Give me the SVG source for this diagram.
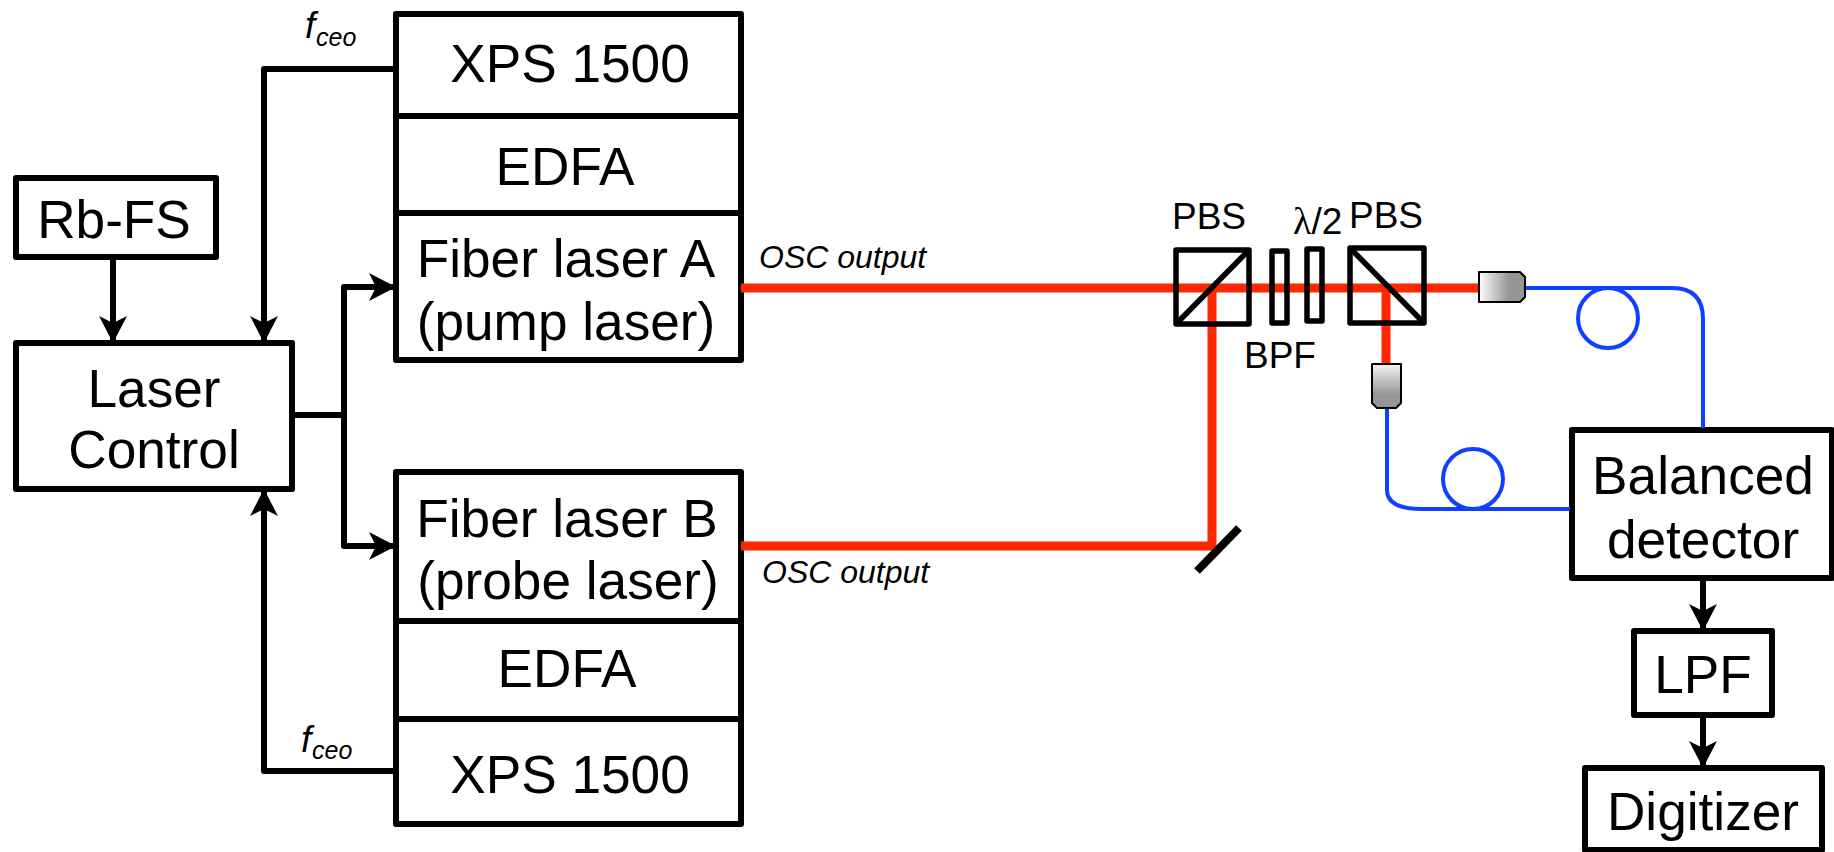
<svg xmlns="http://www.w3.org/2000/svg" width="1834" height="852" viewBox="0 0 1834 852">
<style>
text{font-family:"Liberation Sans",Arial,sans-serif;fill:#000}
.l{font-size:53.2px;text-anchor:middle}
.s{font-size:37px}
.o{font-size:32px;font-style:italic}
.f{font-size:37px;font-style:italic}
.c{font-size:25px;font-style:italic}
.b{fill:#fff;stroke:#000;stroke-width:6;stroke-linejoin:round}
.k{fill:none;stroke:#000;stroke-width:6;stroke-linejoin:round}
.r{fill:none;stroke:#ff2600;stroke-width:9}
.u{fill:none;stroke:#0f3fff;stroke-width:4}
.p{fill:none;stroke:#000;stroke-width:5.5;stroke-linejoin:round}
.g{stroke:#000;stroke-width:2;stroke-linejoin:round}
</style>
<defs>
<marker id="a" markerUnits="userSpaceOnUse" markerWidth="32" markerHeight="32" refX="27" refY="15" orient="auto">
<path d="M27 15L0 1L7 15L0 29Z" fill="#000"/>
</marker>
<linearGradient id="gh" x1="0" x2="1" y1="0" y2="0"><stop offset="0" stop-color="#fff"/><stop offset=".65" stop-color="#969696"/><stop offset="1" stop-color="#969696"/></linearGradient>
<linearGradient id="gv" x1="0" x2="0" y1="0" y2="1"><stop offset="0" stop-color="#f4f4f4"/><stop offset=".7" stop-color="#969696"/><stop offset="1" stop-color="#969696"/></linearGradient>
</defs>
<g id="rb-fs"><rect class="b" x="16" y="178" width="200" height="79"/><text class="l" x="114" y="238">Rb-FS</text></g>
<g id="laser-control"><rect class="b" x="16" y="343" width="276" height="146"/><text class="l" x="154" y="407">Laser</text><text class="l" x="154" y="468">Control</text></g>
<g id="xps-a"><rect class="b" x="396" y="14" width="345" height="102"/><text class="l" x="570" y="82">XPS 1500</text></g>
<g id="edfa-a"><rect class="b" x="396" y="116" width="345" height="97"/><text class="l" x="565" y="185">EDFA</text></g>
<g id="laser-a"><rect class="b" x="396" y="213" width="345" height="147"/><text class="l" x="566" y="277">Fiber laser A</text><text class="l" x="566" y="340">(pump laser)</text></g>
<g id="laser-b"><rect class="b" x="396" y="472" width="345" height="149"/><text class="l" x="567" y="537">Fiber laser B</text><text class="l" x="568" y="599">(probe laser)</text></g>
<g id="edfa-b"><rect class="b" x="396" y="621" width="345" height="98"/><text class="l" x="567" y="687">EDFA</text></g>
<g id="xps-b"><rect class="b" x="396" y="719" width="345" height="105"/><text class="l" x="570" y="793">XPS 1500</text></g>
<g id="balanced"><rect class="b" x="1572" y="430" width="260" height="148"/><text class="l" x="1703" y="494">Balanced</text><text class="l" x="1703" y="558">detector</text></g>
<g id="lpf"><rect class="b" x="1634" y="631" width="138" height="84"/><text class="l" x="1703" y="693">LPF</text></g>
<g id="digitizer"><rect class="b" x="1585" y="768" width="237" height="82"/><text class="l" x="1703" y="830">Digitizer</text></g>
<g id="connectors">
<path class="r" d="M741 288H1480"/>
<path class="r" d="M741 546H1212V288"/>
<path class="r" d="M1386 288V364"/>
<path class="u" d="M1525 288H1672Q1703 288 1703 319V428"/>
<path class="u" d="M1387 408V490Q1387 509 1422 509H1570"/>
<circle class="u" cx="1608" cy="318" r="30"/>
<circle class="u" cx="1473" cy="479" r="30"/>
<path class="k" d="M396 69H264V343" marker-end="url(#a)"/>
<path class="k" d="M396 771H264V489" marker-end="url(#a)"/>
<path class="k" d="M113 257V343" marker-end="url(#a)"/>
<path class="k" d="M292 415H344V287H396" marker-end="url(#a)"/>
<path class="k" d="M344 415V546H396" marker-end="url(#a)"/>
<path class="k" d="M1703 578V631" marker-end="url(#a)"/>
<path class="k" d="M1703 715V768" marker-end="url(#a)"/>
</g>
<g id="pbs1"><rect class="p" x="1176" y="250" width="73" height="74"/><path class="p" d="M1176 324L1249 250"/></g>
<g id="bpf"><rect class="p" x="1272" y="251" width="15" height="72"/></g>
<g id="hwp"><rect class="p" x="1307" y="249" width="15" height="72"/></g>
<g id="pbs2"><rect class="p" x="1350" y="248" width="74" height="75"/><path class="p" d="M1350 248L1424 323"/></g>
<g id="mirror"><path d="M1197 571L1239 528" stroke="#000" stroke-width="8" fill="none"/></g>
<g id="col1"><path class="g" fill="url(#gh)" d="M1479 272H1520L1525 277V297L1520 302H1479Z"/></g>
<g id="col2"><path class="g" fill="url(#gv)" d="M1372 364H1401V403L1396 408H1377L1372 403Z"/></g>
<g id="labels">
<text class="s" x="1172" y="229">PBS</text>
<text class="s" x="1349" y="228">PBS</text>
<text class="s" x="1244" y="368">BPF</text>
<text class="s" x="1293" y="234"><tspan style="font-family:'Liberation Serif',serif;font-size:38px">λ</tspan>/2</text>
<text class="o" x="759" y="268">OSC output</text>
<text class="o" x="762" y="583">OSC output</text>
<text class="f" x="305" y="38">f</text><text class="c" x="316" y="46">ceo</text>
<text class="f" x="301" y="752">f</text><text class="c" x="312" y="759">ceo</text>
</g>
</svg>
